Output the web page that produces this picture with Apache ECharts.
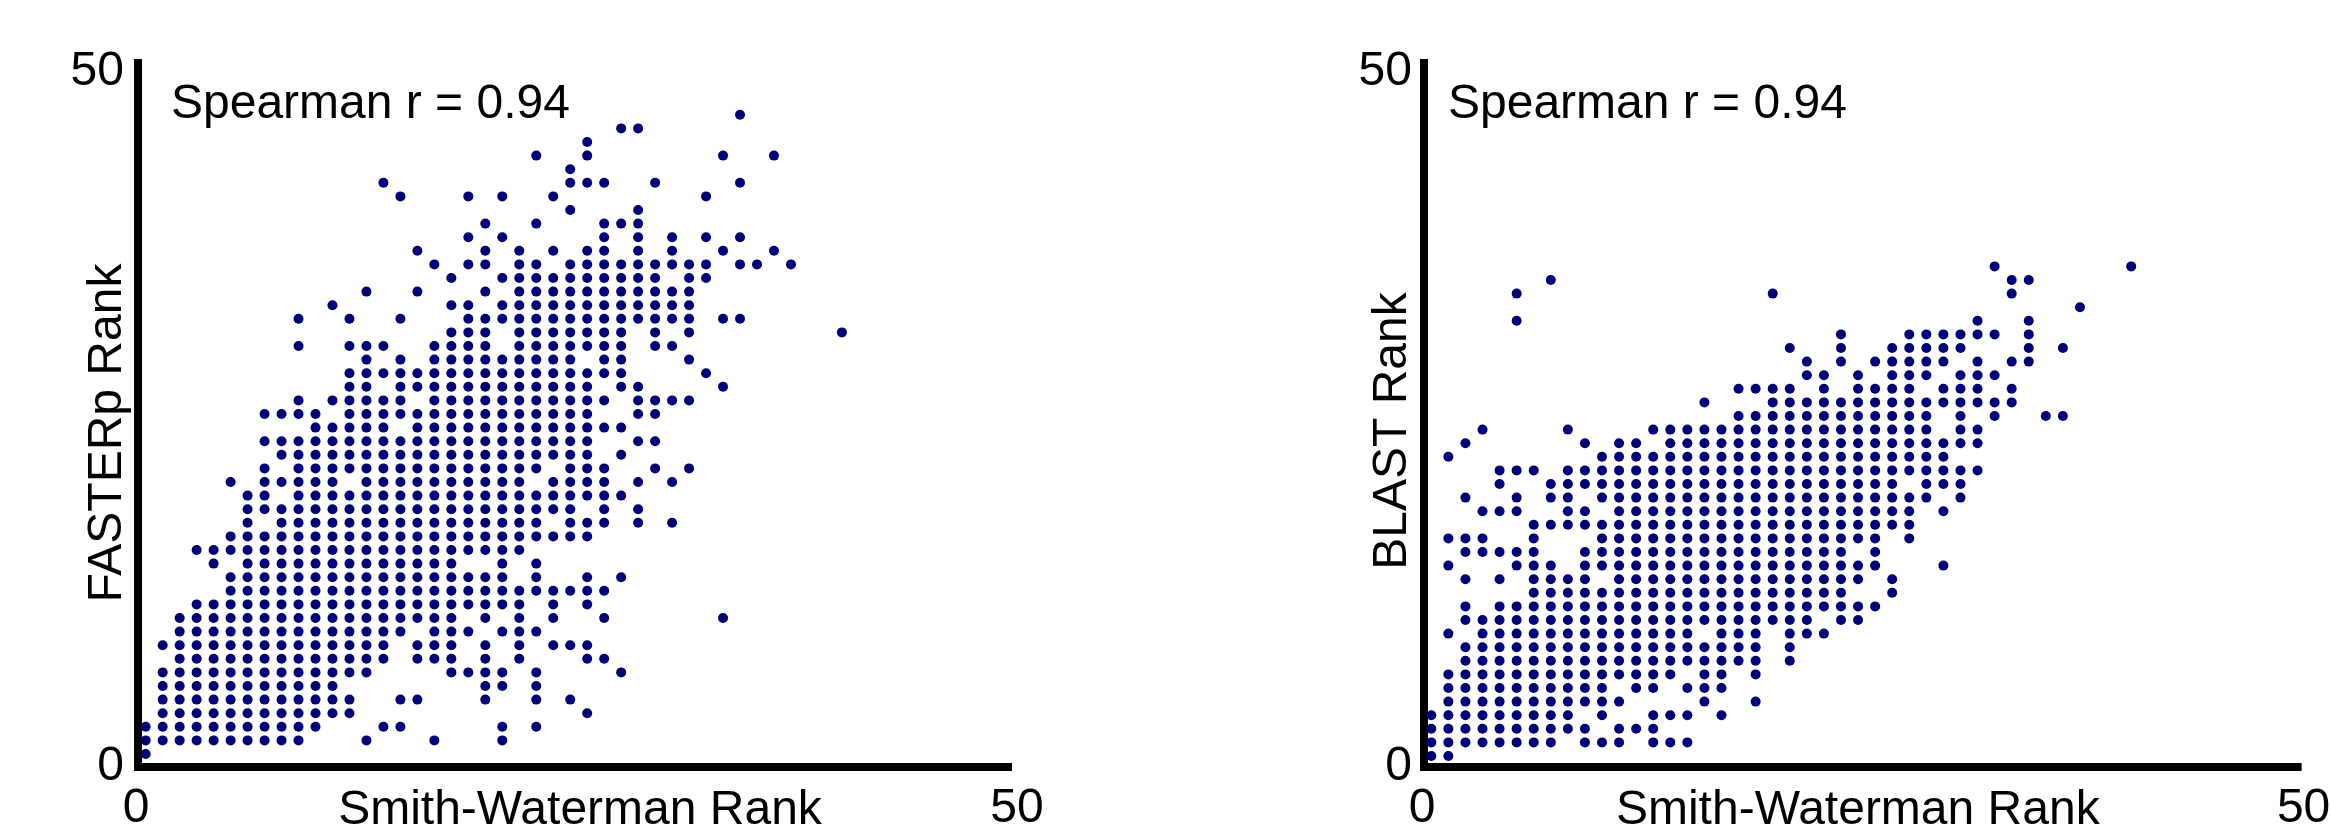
<!DOCTYPE html>
<html>
<head>
<meta charset="utf-8">
<style>html,body{margin:0;padding:0;background:#fff}#chart{width:2331px;height:825px}</style>
<script src="https://cdn.jsdelivr.net/npm/echarts@6/dist/echarts.min.js"></script>
</head>
<body>
<div id="chart"></div>
<script>
// Each row lists the occupied rank columns of one rank row (row 1 first); "a-b" is a run of columns.
var fasterpRows = [
"0","0-9 13 17 21","0-10 14 15 21 23","1-12 26","1-12 15 16 20 23 25","1-11 20 21 23",
"1-13 18 19 20 21 23 28","2-14 16 17 18 20 22 26 27","1-14 16 17 18 20 22 24 25 26",
"2-15 17 18 19 21 22 23","2-18 20 22 24 27 34","3-22 24 26","5-27","5-21 23 26 28",
"4 6-18 21 23","3-22","5-26","6 8-23 25 26 27 29 31","6-25 27 29","6 7 9-28",
"5 7-11 13-22 24-27 29 31","7 9-23 25 26 27 30 32","8-26 28","7-26 29 30","10-14 16-28",
"7-10 12-26 29 30","9 11-15 17-27 29-32","12 13 15-26 28 29 34","12-28 33",
"13 15 17-25 27 28 32","9 12 13 14 17 18 19 20 22-28 30 31","18 19 20 22-28 30 32 41",
"9 12 15 19-32 34 35","11 18 19 21-32","13 16 20 22-32","18 21-30 32 33",
"17 19 20 22 23 25-33 35 36 38","16 20 22 24 26 27 29 31 34 37","19 21 27 29 31 33 35",
"20 23 27 28 29","25 29","15 19 21 24 33","14 25 26 27 30 35","25","23 26 34 37","26","28 29","35"
];
var blastRows = [
"0 1","0-7 9 10 11 13 14 15","0-9 11 12 13","0-8 10 13 14 15 17","1-11 16 19",
"1-10 12 13 15 16 17","1-14 16 17 19","2-19 21","2-19 21","1 3-15 17 18 19 21 22 23",
"2-22 24 25","2 4-24 25 26","6-24 27","2 4 6 7 8 9 11-25 27","1 5 6 7 9-26 30",
"2 3 4 5 6 9-24 26","1 2 3 6 10-26 28","6-28","3 4 5 8 9 11-28 30",
"2 5 7 8 10-29 31","4 7-27 29 30 31","4 5 6 8-32","1 10-30","2 9 11 12 14-32",
"3 8 13-29 31 32","18-29 31 33 36 37","16 20-34","18-21 23 25-28 30 31 32 34",
"22 23 25 27 28 29 31 32 33","22 24 26-30 32 34 35","21 24 27-31 35 37",
"24 28-33 35","5 32 35","38","5 20 34","7 34 35","33 41"
];
var leftXName = "Smith-Waterman Rank", leftYName = "FASTERp Rank", rightYName = "BLAST Rank";
var annotation = "Spearman r = 0.94";
var axisTicks = [0, 50];

function points(rows, xOffset, xStep, yOffset, yStep) {
  var out = [];
  rows.forEach(function (row, r) {
    row.split(" ").forEach(function (tok) {
      var p = tok.split("-"), a = +p[0], b = +p[p.length - 1];
      for (var c = a; c <= b; c++) out.push([xOffset + xStep * c, yOffset + yStep * r]);
    });
  });
  return out;
}
var font = "Liberation Sans";
function xAxis(i, name, namePad, endPad) {
  return {
    type: "value", gridIndex: i, min: axisTicks[0], max: axisTicks[1], interval: 50, position: "bottom",
    name: name, nameLocation: "middle", nameGap: 44, nameMoveOverlap: false,
    nameTextStyle: {color: "#000", fontFamily: font, fontSize: 48, padding: namePad, verticalAlign: "middle"},
    axisLine: {show: true, onZero: false, lineStyle: {color: "#000", width: 8, cap: "square"}},
    axisTick: {show: false}, splitLine: {show: false},
    axisLabel: {show: true, color: "#000", fontFamily: font, fontSize: 48, margin: 18, showMinLabel: true, showMaxLabel: true,
      formatter: function (v) { return v === 50 ? "{e|50}" : "{s|" + v + "}"; },
      rich: {e: {fontFamily: font, fontSize: 48, color: "#000", padding: [0, 0, 0, endPad]}, s: {fontFamily: font, fontSize: 48, color: "#000", padding: [0, 4, 0, 0]}}}
  };
}
function yAxis(i, name, shift, margin, gap) {
  return {
    type: "value", gridIndex: i, min: axisTicks[0], max: axisTicks[1], interval: 50, position: "left",
    name: name, nameLocation: "middle", nameGap: gap, nameRotate: 90, nameMoveOverlap: false,
    nameTextStyle: {color: "#000", fontFamily: font, fontSize: 48, padding: [0, shift, 0, 0], verticalAlign: "middle"},
    axisLine: {show: true, onZero: false, lineStyle: {color: "#000", width: 8, cap: "square"}},
    axisTick: {show: false}, splitLine: {show: false},
    axisLabel: {show: true, color: "#000", fontFamily: font, fontSize: 48, margin: margin, showMinLabel: true, showMaxLabel: true,
      formatter: function (v) { return v === 50 ? "{t|50}" : "{b|" + v + "}"; },
      rich: {t: {fontFamily: font, fontSize: 48, color: "#000", padding: [17, 0, 0, 0]}, b: {fontFamily: font, fontSize: 48, color: "#000", padding: [0, 0, 0, 0]}}}
  };
}
function scatter(i, data) {
  return {type: "scatter", xAxisIndex: i, yAxisIndex: i, data: data, symbol: "circle", symbolSize: 10, clip: false, z: 5,
    itemStyle: {color: "#000074", borderWidth: 0, opacity: 1}, emphasis: {disabled: true}, animation: false, large: false};
}
var chart = echarts.init(document.getElementById("chart"), null, {renderer: "canvas"});
chart.setOption({
  animation: false, backgroundColor: "#fff",
  grid: [
    {left: 138, top: 63, width: 870, height: 704, containLabel: false, outerBoundsMode: "none"},
    {left: 1424, top: 63, width: 873.6, height: 704, containLabel: false, outerBoundsMode: "none"}
  ],
  xAxis: [xAxis(0, leftXName, [0, 0, 0, 14], 18), xAxis(1, leftXName, [0, 6, 0, 0], 12)],
  yAxis: [yAxis(0, leftYName, 36, 14, 30), yAxis(1, rightYName, 32, 12, 31)],
  title: [
    {text: annotation, left: 171, top: 81, padding: 0, textStyle: {color: "#000", fontFamily: font, fontSize: 48, fontWeight: "normal"}},
    {text: annotation, left: 1448, top: 81, padding: 0, textStyle: {color: "#000", fontFamily: font, fontSize: 48, fontWeight: "normal"}}
  ],
  series: [
    scatter(0, points(fasterpRows, 0.4425, 0.9759, 0.923, 0.9659)),
    scatter(1, points(blastRows, 0.418, 0.977, 0.781, 0.9659))
  ]
});
</script>
</body>
</html>
